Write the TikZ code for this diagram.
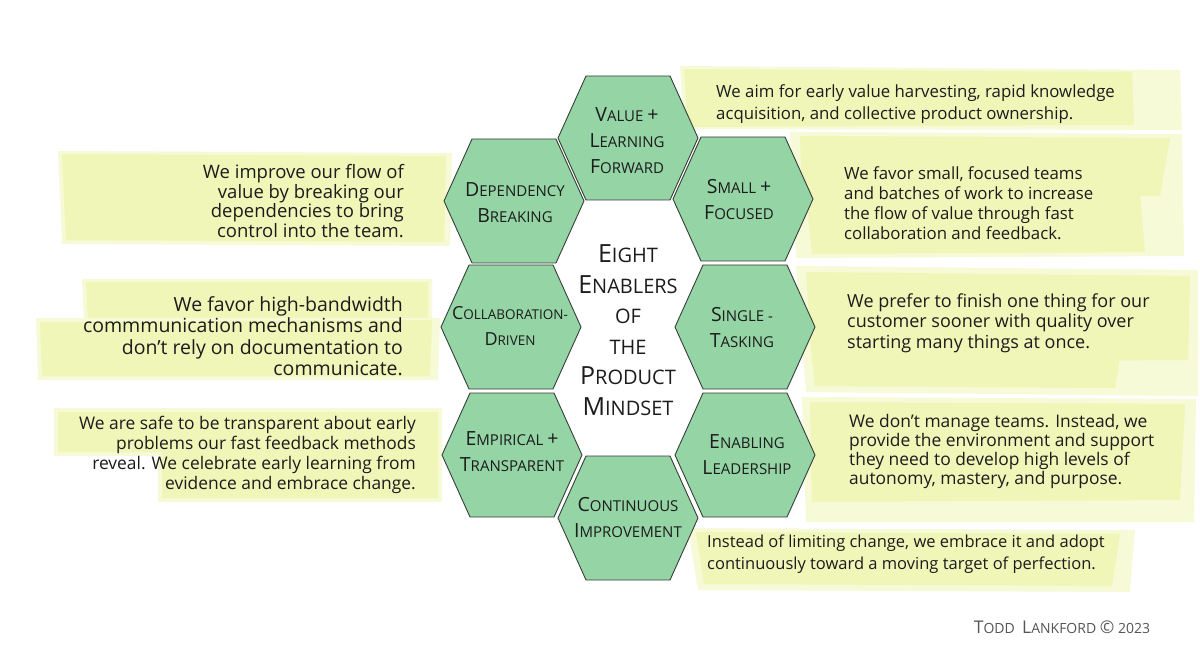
\documentclass[tikz,border=0pt]{standalone}
\usepackage{fontspec}
\setmainfont{Open Sans}
\usetikzlibrary{calc}

\definecolor{hl}{RGB}{240,246,184}
\definecolor{hlsoft}{RGB}{246,250,214}
\definecolor{hexfill}{RGB}{148,212,165}
\definecolor{edge}{RGB}{55,62,55}
\definecolor{ink}{RGB}{28,28,28}
\definecolor{signink}{RGB}{85,85,85}

% first letter of a small-caps word
\newcommand\bigc[1]{{\fontsize{19.5}{19.5}\selectfont #1}}
\newcommand\ctrbig[1]{{\fontsize{25}{25}\selectfont #1}}
\newcommand\signbig[1]{{\fontsize{17.5}{17.5}\selectfont #1}}

% hexagon cell: name, centre x, centre y
\newcommand\hexcell[3]{%
  \coordinate (#1) at (#2,#3);
  \filldraw[hexcell] ($(#1)+(-70,0)$) -- ++(28,-62) -- ++(84,0) -- ++(28,62)
    -- ++(-28,62) -- ++(-84,0) -- cycle;
}

\begin{document}
\begin{tikzpicture}[x=1pt,y=-1pt,
  hexcell/.style={draw=edge,line width=0.9pt,fill=hexfill,line join=round},
  hexlabel/.style={align=center,text=ink,inner sep=0pt,font=\fontsize{15}{26}\selectfont},
  desc/.style={text=ink,inner sep=0pt},
  band/.style={fill=hl},
  bandsoft/.style={fill=hlsoft}]

\useasboundingbox (0,0) rectangle (1200,655);
\fill[white] (0,0) rectangle (1200,655);

% ---- highlighter strokes behind the statements ----
% right side
\fill[bandsoft] (680,66) -- (1180,70) -- (1182,130) -- (684,129) -- cycle;
\fill[band] (684,69) -- (1132,72) -- (1134,125) -- (688,127) -- cycle;
\fill[bandsoft] (790,132) -- (1182,134) -- (1184,256) -- (796,258) -- cycle;
\fill[band] (800,136) -- (1170,138) -- (1160,196) -- (802,198) -- cycle;
\fill[band] (806,192) -- (1140,194) -- (1145,252) -- (812,254) -- cycle;
\fill[bandsoft] (796,266) -- (1198,270) -- (1198,396) -- (806,392) -- cycle;
\fill[band] (806,272) -- (1190,276) -- (1188,360) -- (812,362) -- cycle;
\fill[band] (812,356) -- (1120,358) -- (1115,388) -- (815,386) -- cycle;
\fill[bandsoft] (802,397) -- (1196,399) -- (1194,522) -- (806,522) -- cycle;
\fill[band] (810,402) -- (1185,404) -- (1180,500) -- (812,502) -- cycle;
\fill[bandsoft] (688,528) -- (1135,530) -- (1130,592) -- (698,590) -- cycle;
\fill[band] (696,532) -- (1120,534) -- (1112,586) -- (704,584) -- cycle;
% left side
\fill[bandsoft] (58,151) -- (452,153) -- (450,246) -- (62,244) -- cycle;
\fill[band] (62,154) -- (446,156) -- (444,242) -- (66,240) -- cycle;
\fill[bandsoft] (82,279) -- (432,279) -- (432,322) -- (84,322) -- cycle;
\fill[band] (86,282) -- (428,282) -- (428,320) -- (88,320) -- cycle;
\fill[bandsoft] (36,318) -- (440,318) -- (438,380) -- (38,380) -- cycle;
\fill[band] (40,322) -- (432,320) -- (430,376) -- (42,376) -- cycle;
\fill[bandsoft] (54,408) -- (442,408) -- (442,502) -- (158,502) -- (158,456) -- (54,456) -- cycle;
\fill[band] (58,412) -- (438,412) -- (438,498) -- (162,498) -- (162,452) -- (58,452) -- cycle;

% ---- honeycomb of the eight enablers ----
\hexcell{hvlf}{628}{138}
\hexcell{hdep}{514}{201}
\hexcell{hsf}{743}{199}
\hexcell{hcol}{511}{327}
\hexcell{hst}{745}{327}
\hexcell{hemp}{512}{455}
\hexcell{hel}{745}{455}
\hexcell{hci}{628}{518}

\node[hexlabel] (vlf) at (627,141) {\bigc{V}ALUE \bigc{+}\\\bigc{L}EARNING\\\bigc{F}ORWARD};
\node[hexlabel] (dep) at (515,203) {\bigc{D}EPENDENCY\\\bigc{B}REAKING};
\node[hexlabel] (sf)  at (739,200) {\bigc{S}MALL \bigc{+}\\\bigc{F}OCUSED};
\node[hexlabel,font=\fontsize{13.5}{26}\selectfont] (col) at (510,326)
  {{\fontsize{18}{18}\selectfont C}OLLABORATION-\\{\fontsize{18}{18}\selectfont D}RIVEN};
\node[hexlabel] (st)  at (742,328) {\bigc{S}INGLE -\\\bigc{T}ASKING};
\node[hexlabel] (emp) at (512,452) {\bigc{E}MPIRICAL \bigc{+}\\\bigc{T}RANSPARENT};
\node[hexlabel] (el)  at (747,455) {\bigc{E}NABLING\\\bigc{L}EADERSHIP};
\node[hexlabel] (ci)  at (628,518) {\bigc{C}ONTINUOUS\\\bigc{I}MPROVEMENT};

% ---- centre title ----
\node[align=center,text=ink,inner sep=0pt,font=\fontsize{20}{30.5}\selectfont] (title) at (628,330)
  {\ctrbig{E}IGHT\\\ctrbig{E}NABLERS\\OF\\THE\\\ctrbig{P}RODUCT\\\ctrbig{M}INDSET};

% ---- statements ----
\node[desc,anchor=west,align=left,font=\fontsize{16.8}{22}\selectfont] (tvlf) at (716,104)
  {We aim for early value harvesting, rapid knowledge\\acquisition, and collective product ownership.};
\node[desc,anchor=west,align=left,font=\fontsize{16.8}{20}\selectfont] (tsf) at (844,203)
  {We favor small, focused teams\\and batches of work to increase\\the flow of value through fast\\collaboration and feedback.};
\node[desc,anchor=west,align=left,font=\fontsize{18}{20.5}\selectfont] (tst) at (847,323)
  {We prefer to finish one thing for our\\customer sooner with quality over\\starting many things at once.};
\node[desc,anchor=west,align=left,font=\fontsize{17.4}{19}\selectfont] (tel) at (849,451)
  {We don't manage teams. Instead, we\\provide the environment and support\\they need to develop high levels of\\autonomy, mastery, and purpose.};
\node[desc,anchor=west,align=left,font=\fontsize{16.5}{22}\selectfont] (tci) at (707,554)
  {Instead of limiting change, we embrace it and adopt\\continuously toward a moving target of perfection.};

\node[desc,anchor=east,align=right,font=\fontsize{18.5}{19.5}\selectfont] (tdep) at (404,201)
  {We improve our flow of\\value by breaking our\\dependencies to bring\\control into the team.};
\node[desc,anchor=east,align=right,font=\fontsize{19.5}{21.5}\selectfont] (tcol) at (403,336)
  {We favor high-bandwidth\\commmunication mechanisms and\\don't rely on documentation to\\communicate.};
\node[desc,anchor=east,align=right,font=\fontsize{17.4}{20}\selectfont] (temp) at (416,455)
  {We are safe to be transparent about early\\problems our fast feedback methods\\reveal. We celebrate early learning from\\evidence and embrace change.};

% ---- signature ----
\node[text=signink,inner sep=0pt,font=\fontsize{14}{14}\selectfont] (sign) at (1062,627)
  {\signbig{T}ODD\ \ \signbig{L}ANKFORD \signbig{©} 2023};

\end{tikzpicture}
\end{document}
